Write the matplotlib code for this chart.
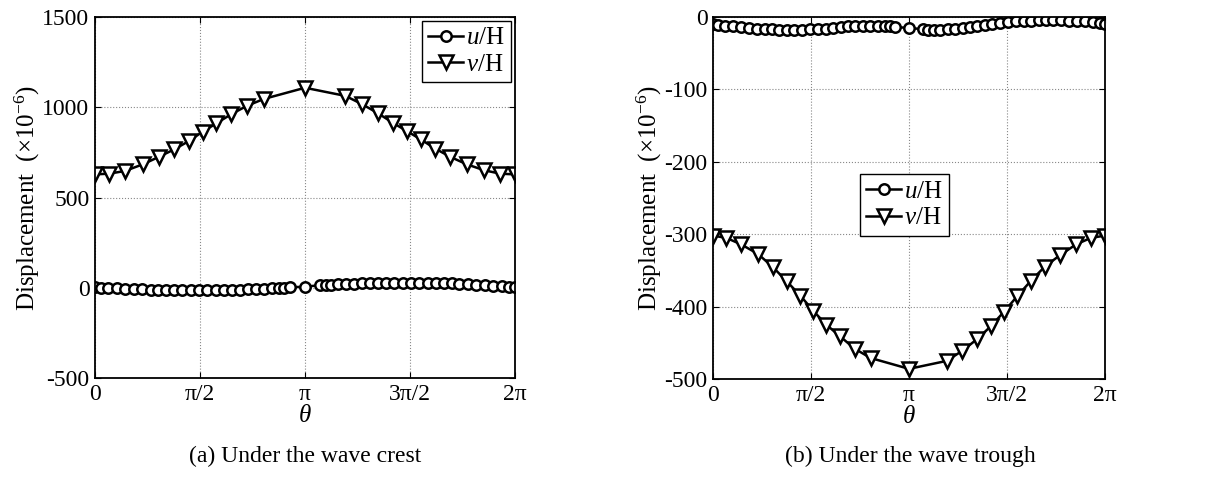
#!/usr/bin/env python3

import matplotlib
matplotlib.use('Agg')
import matplotlib.pyplot as plt
import numpy as np

plt.rcParams['font.family'] = ['Liberation Serif', 'DejaVu Serif']
plt.rcParams['mathtext.fontset'] = 'custom'
plt.rcParams['mathtext.rm'] = 'Liberation Serif'
plt.rcParams['mathtext.it'] = 'Liberation Serif:italic'

# theta positions in units of pi
th_v = [0, 0.067, 0.143, 0.228, 0.304, 0.376, 0.446, 0.512, 0.578, 0.648, 0.722, 0.804, 1.0,
        1.192, 1.272, 1.347, 1.418, 1.485, 1.551, 1.620, 1.692, 1.770, 1.853, 1.929, 2.0]
th_u = [0, 0.027, 0.062, 0.103, 0.143, 0.185, 0.225, 0.265, 0.300, 0.338, 0.376, 0.415, 0.455,
        0.494, 0.534, 0.574, 0.613, 0.653, 0.689, 0.727, 0.765, 0.803, 0.843, 0.875, 0.902, 0.927,
        1.0,
        1.073, 1.098, 1.125, 1.157, 1.197, 1.235, 1.273, 1.311, 1.347, 1.387, 1.426, 1.466, 1.506,
        1.545, 1.585, 1.624, 1.662, 1.700, 1.735, 1.775, 1.815, 1.857, 1.897, 1.938, 1.973, 2.0]

# (a) under the wave crest
crest_v = [628, 632, 647, 684, 725, 766, 812, 864, 911, 961, 1007, 1046, 1108,
           1063, 1017, 967, 914, 868, 822, 771, 725, 684, 651, 632, 628]
crest_u = [2, 1, -1, -3, -5, -7, -9, -10, -11, -12, -13, -13, -14, -14, -14, -13, -13, -12, -11,
           -9, -7, -5, -3, -1, 1, 2,
           6,
           14, 16, 18, 20, 21, 23, 24, 25, 26, 26, 27, 27, 27, 27, 27, 26, 25, 24, 22, 20, 17, 14,
           11, 8, 5, 3]

# (b) under the wave trough
trough_v = [-302, -305, -314, -327, -345, -365, -385, -406, -425, -441, -458, -471, -486,
            -475, -461, -445, -427, -407, -386, -365, -345, -329, -314, -305, -302]
trough_u = [-10, -11, -12, -13, -14, -15, -16, -17, -17, -18, -18, -18, -18, -17, -17, -16, -15,
            -14, -13, -12, -12, -12, -12, -12, -13, -14,
            -15,
            -17, -18, -18, -18, -17, -16, -15, -14, -12, -11, -9, -8, -7, -6, -5, -5, -4, -4, -4,
            -4, -5, -5, -6, -7, -8, -10]

xtick_labels = ['0', 'π/2', 'π', '3π/2', '2π']
captions = ['(a) Under the wave crest', '(b) Under the wave trough']

fig = plt.figure(figsize=(12.07, 4.83), dpi=100)
W, H = 1207.0, 483.0


def panel(rect, u, v, ylim, yticks, legend_kw):
    ax = fig.add_axes(rect)
    ax.plot(np.array(th_u) * np.pi, u, '-o', color='k', lw=1.8, ms=7.5,
            mfc='white', mec='k', mew=1.8, label='$u$/H')
    ax.plot(np.array(th_v) * np.pi, v, '-v', color='k', lw=1.8, ms=9.5,
            mfc='white', mec='k', mew=1.8, label='$v$/H')
    ax.set_xlim(0, 2 * np.pi)
    ax.set_ylim(*ylim)
    ax.set_xticks(np.arange(5) * np.pi / 2)
    ax.set_xticklabels(xtick_labels)
    ax.set_yticks(yticks)
    ax.set_yticklabels([str(t) for t in yticks])
    ax.tick_params(direction='in', top=True, right=True, labelsize=17, length=4)
    ax.tick_params(axis='x', pad=4)
    ax.tick_params(axis='y', pad=4)
    ax.grid(True, linestyle=':', color='#888888', lw=0.8)
    for s in ax.spines.values():
        s.set_linewidth(1.3)
    ax.set_xlabel(r'$\theta$', fontsize=18, labelpad=0)
    ax.set_ylabel(r'Displacement  (×10$^{-6}$)', fontsize=18, labelpad=0)
    leg = ax.legend(fontsize=18, fancybox=False, edgecolor='k', framealpha=1,
                    handlelength=1.4, handletextpad=0.1, borderpad=0.25,
                    labelspacing=0.15, borderaxespad=0, **legend_kw)
    leg.get_frame().set_linewidth(1.0)
    return ax


panel([95 / W, 1 - 378 / H, 420 / W, 361 / H], crest_u, crest_v, (-500, 1500),
      [-500, 0, 500, 1000, 1500], dict(loc='upper right', bbox_to_anchor=(0.99, 0.99)))
panel([713 / W, 1 - 379 / H, 392 / W, 362 / H], trough_u, trough_v, (-500, 0),
      [-500, -400, -300, -200, -100, 0], dict(loc='upper left', bbox_to_anchor=(0.375, 0.565)))

fig.text(305 / W, 1 - 456 / H, captions[0], ha='center', va='center', fontsize=17)
fig.text(910 / W, 1 - 456 / H, captions[1], ha='center', va='center', fontsize=17)

plt.savefig('out.png', dpi=100)
